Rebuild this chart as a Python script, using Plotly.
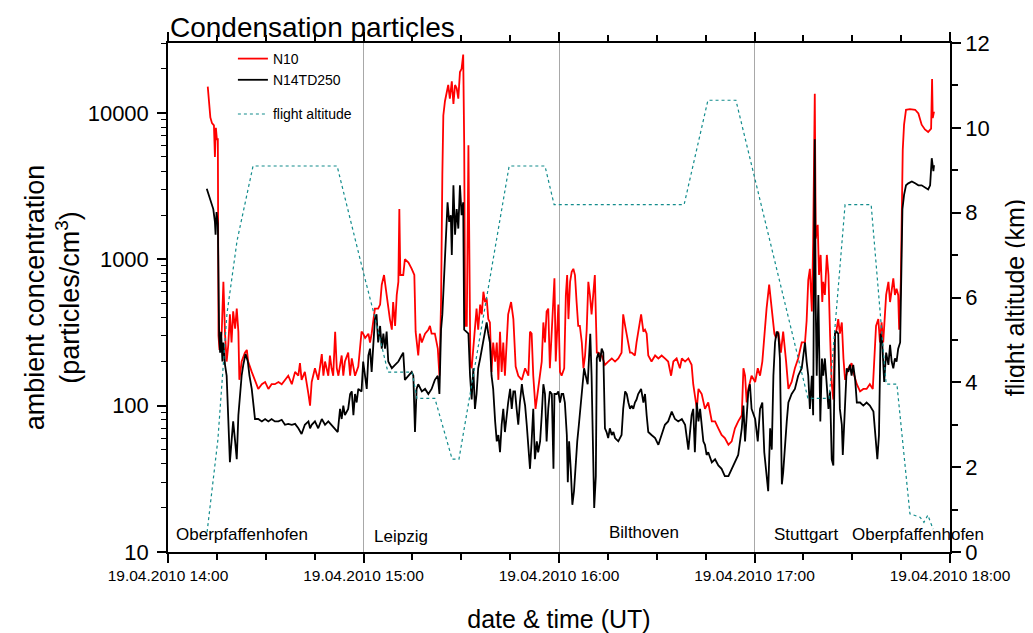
import numpy as np
import pandas as pd
import plotly.graph_objects as go

# ---------------- data (minutes after 19.04.2010 14:00 UT) ----------------
n10_minutes = [12.2, 12.6, 13.0, 13.5, 14.1, 14.4, 14.7, 15.0, 15.3, 15.5, 15.8, 16.5, 17.0, 17.5, 18.0,
               18.5, 19.0, 19.5, 20.0, 20.6, 21.1, 21.6, 21.9, 22.6, 23.6, 24.2, 24.6, 25.7, 26.7, 27.7,
               28.8, 29.8, 30.8, 31.8, 32.8, 33.9, 34.9, 35.9, 36.9, 38.0, 39.0, 40.0, 40.5, 41.0, 42.0,
               43.1, 43.6, 44.1, 45.1, 46.1, 47.2, 47.7, 48.2, 49.2, 49.7, 50.2, 50.7, 51.3, 51.8, 52.3,
               53.3, 53.8, 54.3, 55.3, 55.9, 56.4, 57.4, 58.4, 59.4, 59.9, 60.5, 61.5, 62.0, 62.5, 63.0,
               63.5, 64.5, 65.1, 65.6, 66.3, 67.1, 67.6, 68.1, 68.7, 69.1, 69.7, 70.2, 70.7, 71.0, 71.3,
               72.2, 72.7, 73.8, 74.8, 75.6, 76.0, 76.8, 77.3, 77.9, 78.9, 79.9, 80.4, 80.9, 81.9, 82.8,
               83.3, 83.8, 84.2, 84.5, 85.0, 85.5, 86.0, 86.5, 87.1, 87.6, 88.1, 88.6, 89.1, 89.6, 90.1,
               90.6, 90.9, 91.2, 91.7, 92.2, 92.5, 92.8, 93.2, 93.7, 94.2, 94.7, 95.2, 95.8, 96.3, 96.8,
               97.3, 97.8, 98.3, 98.8, 99.3, 99.8, 100.4, 100.9, 101.4, 101.9, 102.4, 102.9, 103.4, 103.9, 104.4,
               105.3, 106.0, 106.7, 107.5, 108.6, 109.6, 110.6, 111.1, 111.6, 112.1, 112.8, 113.6, 114.7, 115.2, 115.7,
               116.2, 116.7, 117.2, 117.8, 118.6, 119.0, 119.5, 119.8, 120.3, 120.8, 121.6, 122.1, 122.5, 122.9, 123.4,
               123.9, 124.4, 124.9, 125.4, 125.9, 126.4, 127.0, 127.5, 128.0, 128.5, 129.0, 129.5, 130.0, 130.5, 131.0,
               131.6, 132.1, 133.1, 134.1, 135.1, 136.2, 137.2, 138.2, 139.2, 139.7, 140.3, 141.3, 141.8, 142.3, 143.3,
               143.8, 144.3, 145.2, 145.9, 146.4, 146.9, 147.4, 148.4, 149.5, 150.5, 151.5, 152.5, 153.5, 154.4, 155.1,
               156.1, 157.1, 157.7, 158.7, 159.7, 160.7, 161.2, 161.7, 162.3, 162.8, 163.8, 164.8, 165.8, 166.9, 167.9,
               168.9, 169.9, 170.9, 172.0, 173.0, 174.0, 175.0, 176.1, 176.6, 177.1, 177.6, 178.1, 179.1, 180.2, 181.0,
               181.7, 182.4, 183.0, 183.7, 184.5, 185.1, 185.6, 186.1, 186.6, 187.3, 188.1, 188.8, 189.7, 190.4, 191.4,
               192.4, 193.4, 194.5, 195.5, 196.0, 196.5, 197.0, 197.6, 198.0, 198.5, 198.8, 199.4, 199.8, 200.3, 200.8,
               201.1, 201.6, 202.2, 202.7, 203.2, 203.7, 204.2, 204.7, 205.2, 205.7, 206.2, 206.8, 207.3, 207.8, 208.8,
               209.8, 210.3, 211.4, 212.4, 213.4, 214.4, 215.4, 216.3, 216.7, 217.3, 218.0, 218.5, 219.0, 219.5, 220.4,
               221.1, 221.6, 222.1, 222.6, 223.1, 223.6, 224.1, 224.4, 224.9, 225.2, 225.5, 225.9, 226.5, 227.7, 229.3,
               230.3, 231.3, 232.3, 233.3, 234.2, 234.5, 234.7, 235.1]
n10_values = [15100, 10900, 9300, 8500, 8200, 5000, 7900, 6600, 6600, 300, 240, 320, 700, 310, 200,
              260, 420, 270, 440, 335, 460, 320, 150, 200, 230, 240, 200, 170, 150, 130,
              140, 145, 130, 140, 140, 145, 140, 150, 160, 140, 170, 160, 195, 150, 170,
              120, 100, 145, 180, 150, 225, 160, 200, 160, 220, 180, 160, 320, 180, 160,
              220, 160, 200, 230, 160, 210, 160, 185, 320, 310, 290, 310, 270, 310, 390,
              460, 460, 490, 670, 780, 570, 460, 390, 330, 510, 350, 570, 700, 2200, 780,
              780, 1000, 950, 860, 780, 320, 220, 310, 270, 310, 330, 350, 310, 310, 245,
              160, 510, 3800, 9600, 12000, 14000, 15500, 12500, 16400, 11500, 15500, 14700, 12500, 19000, 20000,
              25000, 6300, 350, 350, 6000, 1470, 190, 180, 245, 350, 460, 330, 490, 420, 600,
              510, 540, 390, 370, 170, 270, 200, 270, 150, 320, 170, 270, 160, 245, 420,
              510, 390, 185, 160, 150, 180, 160, 320, 310, 160, 95, 130, 200, 370, 270,
              440, 460, 180, 310, 740, 200, 390, 490, 170, 160, 180, 570, 780, 390, 700,
              820, 860, 780, 510, 350, 350, 270, 180, 220, 330, 700, 570, 420, 570, 780,
              230, 230, 220, 190, 200, 210, 200, 210, 230, 420, 350, 270, 230, 230, 220,
              270, 320, 420, 320, 330, 310, 220, 200, 220, 210, 220, 210, 200, 160, 200,
              210, 180, 210, 200, 210, 190, 140, 120, 95, 130, 120, 95, 105, 78, 78,
              70, 63, 60, 54, 57, 70, 78, 86, 180, 160, 105, 130, 160, 145, 180,
              160, 200, 310, 460, 670, 510, 420, 310, 290, 320, 230, 320, 200, 130, 145,
              180, 210, 270, 270, 380, 720, 860, 440, 1300, 13500, 1380, 1720, 780, 1070, 510,
              700, 570, 1070, 780, 300, 140, 110, 310, 330, 390, 310, 370, 210, 150, 180,
              195, 170, 140, 125, 130, 130, 140, 130, 200, 350, 390, 270, 370, 270, 570,
              700, 510, 630, 740, 570, 630, 570, 330, 700, 2200, 5600, 8300, 10500, 10600, 10500,
              9900, 8300, 7700, 7400, 7800, 17000, 9200, 10200]

n14_minutes = [11.9, 12.4, 12.9, 13.4, 13.9, 14.4, 14.6, 14.9, 15.3, 15.7, 16.0, 16.3, 16.7, 17.0, 17.5,
               18.0, 18.5, 19.0, 19.5, 20.0, 20.6, 21.1, 21.6, 22.1, 22.6, 23.1, 23.8, 24.5, 25.0, 25.7,
               26.4, 26.7, 27.7, 28.8, 29.8, 30.8, 31.8, 32.8, 33.9, 34.9, 35.9, 36.9, 38.0, 39.0, 40.0,
               40.5, 41.0, 42.0, 43.1, 43.6, 44.1, 45.1, 46.1, 47.2, 48.2, 49.2, 50.2, 51.3, 52.1, 52.8,
               53.3, 53.8, 54.3, 55.3, 55.9, 56.4, 56.9, 57.4, 57.9, 58.4, 59.4, 59.9, 60.5, 61.0, 61.5,
               62.0, 62.5, 63.0, 63.5, 64.0, 64.5, 65.1, 65.6, 66.1, 66.6, 67.1, 67.6, 68.7, 69.7, 70.7,
               71.7, 72.2, 72.7, 73.8, 74.8, 75.3, 75.8, 76.3, 76.8, 77.9, 78.9, 79.9, 80.9, 81.9, 82.8,
               83.3, 83.8, 84.2, 84.8, 85.2, 85.8, 86.3, 86.8, 87.1, 87.6, 88.1, 88.6, 89.1, 89.6, 90.1,
               90.6, 90.9, 91.7, 92.2, 92.7, 93.2, 93.7, 94.2, 94.7, 95.2, 95.8, 96.3, 96.8, 97.3, 97.8,
               98.3, 98.8, 99.3, 99.8, 100.4, 100.9, 101.4, 101.9, 102.4, 102.9, 103.4, 103.9, 104.4, 105.0, 105.5,
               106.0, 106.5, 107.0, 107.5, 108.0, 108.6, 109.0, 109.6, 110.1, 110.6, 111.1, 111.6, 112.1, 112.6, 113.2,
               113.6, 114.2, 114.7, 115.2, 115.7, 116.2, 116.7, 117.2, 117.8, 118.3, 118.6, 119.3, 119.8, 120.3, 120.8,
               121.3, 121.8, 122.4, 122.7, 123.1, 123.6, 124.1, 124.6, 125.1, 125.6, 126.1, 126.7, 127.2, 127.7, 128.2,
               128.8, 129.2, 129.6, 130.0, 130.4, 130.8, 131.3, 131.6, 132.1, 132.6, 133.1, 133.6, 134.1, 134.6, 135.1,
               135.6, 136.2, 136.7, 137.2, 138.2, 139.2, 139.7, 140.3, 140.8, 141.3, 141.8, 142.3, 142.8, 143.3, 143.8,
               144.3, 145.2, 145.9, 146.4, 146.9, 147.4, 148.4, 149.5, 150.5, 151.5, 152.5, 153.5, 154.6, 155.6, 156.6,
               157.7, 158.7, 159.7, 160.2, 160.7, 161.2, 161.7, 162.3, 162.8, 163.3, 163.8, 164.3, 164.8, 165.3, 165.8,
               166.9, 167.9, 168.9, 169.9, 170.9, 172.0, 173.0, 174.0, 175.0, 176.1, 176.6, 177.1, 177.6, 178.1, 178.6,
               179.1, 180.2, 181.0, 181.7, 182.4, 183.0, 183.7, 184.2, 184.8, 185.3, 185.8, 186.3, 186.8, 187.3, 187.8,
               188.4, 188.8, 189.4, 189.9, 190.4, 191.4, 192.4, 193.4, 194.5, 195.5, 196.0, 196.5, 197.0, 197.6, 198.0,
               198.3, 198.5, 198.8, 199.1, 199.6, 200.2, 200.7, 201.1, 201.6, 202.2, 202.7, 203.2, 203.7, 204.2, 204.7,
               205.2, 205.7, 206.2, 206.8, 207.1, 207.6, 208.3, 208.8, 209.3, 209.8, 210.3, 210.9, 211.4, 212.4, 213.4,
               214.4, 215.4, 216.5, 217.2, 217.7, 218.2, 218.7, 219.2, 219.8, 220.4, 221.1, 221.6, 222.1, 222.6, 223.1,
               223.6, 224.1, 224.7, 225.0, 225.4, 225.9, 226.5, 227.2, 228.3, 229.3, 230.3, 231.3, 232.3, 233.3, 233.9,
               234.4, 234.9, 235.1]
n14_values = [3030, 2800, 2600, 2450, 2200, 1800, 1470, 2100, 1750, 300, 230, 320, 200, 270, 190,
              160, 81, 41, 57, 78, 57, 43, 86, 125, 160, 190, 225, 200, 160, 130,
              91, 81, 81, 78, 81, 78, 81, 78, 78, 80, 74, 75, 74, 75, 70,
              66, 64, 74, 78, 70, 74, 78, 70, 81, 74, 78, 74, 70, 66, 95,
              81, 100, 86, 95, 120, 125, 86, 120, 105, 130, 125, 200, 160, 130, 220,
              245, 170, 270, 390, 420, 270, 350, 245, 310, 245, 320, 200, 180, 190, 200,
              220, 230, 150, 160, 170, 160, 66, 130, 140, 125, 130, 120, 130, 150, 160,
              120, 330, 420, 780, 1180, 2450, 1800, 2000, 1070, 3200, 1470, 2200, 1620, 3200, 2000,
              2450, 330, 320, 310, 160, 110, 180, 95, 120, 180, 210, 245, 270, 330, 370,
              310, 270, 160, 130, 78, 57, 63, 48, 74, 95, 66, 86, 105, 130, 95,
              125, 125, 95, 74, 105, 140, 120, 100, 74, 48, 37, 57, 95, 43, 57,
              48, 57, 86, 140, 120, 57, 95, 125, 120, 37, 120, 120, 125, 105, 120,
              120, 105, 63, 30, 57, 37, 21, 26, 43, 57, 74, 105, 145, 180, 160,
              140, 210, 310, 160, 57, 20, 33, 210, 230, 200, 245, 230, 70, 66, 60,
              70, 63, 66, 60, 57, 63, 95, 125, 120, 105, 95, 100, 95, 105, 110,
              120, 130, 105, 120, 86, 66, 63, 60, 54, 63, 74, 78, 91, 81, 78,
              81, 74, 50, 70, 86, 95, 48, 105, 78, 95, 70, 57, 54, 46, 48,
              41, 43, 39, 37, 33, 33, 37, 41, 46, 70, 100, 57, 81, 125, 140,
              95, 81, 57, 95, 105, 48, 33, 26, 70, 50, 160, 270, 320, 310, 210,
              29, 35, 57, 78, 105, 120, 130, 160, 180, 270, 200, 160, 95, 160, 86,
              780, 6600, 460, 160, 570, 78, 210, 160, 210, 130, 95, 125, 43, 39, 310,
              320, 310, 95, 74, 46, 86, 180, 170, 190, 160, 190, 150, 105, 105, 100,
              105, 100, 91, 57, 43, 63, 310, 270, 145, 230, 190, 260, 200, 180, 210,
              200, 245, 270, 780, 2200, 2750, 3200, 3300, 3400, 3300, 3200, 3200, 3100, 3000, 3200,
              4900, 4000, 4400]

alt_minutes = [12.0, 15.3, 18.1, 21.2, 26.1, 51.9, 59.8, 63.5, 67.5, 74.9, 76.4, 81.9, 87.2, 89.3,
               104.7, 115.7, 118.5, 158.4, 165.7, 174.3, 196.4, 202.9, 207.8, 215.8, 220.4, 223.7,
               227.7, 230.8, 232.0, 233.2, 234.8]
alt_km = [0.47, 2.64, 5.62, 7.34, 9.1, 9.1, 6.64, 5.53, 4.24, 4.24, 3.62, 3.62, 2.19, 2.19,
          9.1, 9.1, 8.19, 8.19, 10.65, 10.65, 3.62, 3.62, 8.19, 8.19, 3.96, 3.96,
          0.9, 0.82, 0.7, 0.87, 0.54]

site_names = ["Oberpfaffenhofen", "Leipzig", "Bilthoven", "Stuttgart", "Oberpfaffenhofen"]
site_minutes = [22.7, 71.5, 146.1, 196.1, 230.2]

y_tick_values = [10, 100, 1000, 10000]
y2_tick_values = [0, 2, 4, 6, 8, 10, 12]

# ---------------- figure ----------------
base = pd.Timestamp("2010-04-19 14:00:00")


def to_time(mins):
    return base + pd.to_timedelta(np.array(mins, dtype=float), unit="min")


FONT = "Liberation Sans, Arial, Helvetica, sans-serif"

fig = go.Figure()
fig.add_trace(go.Scatter(x=to_time(n10_minutes), y=n10_values, mode="lines", name="N10",
                         line=dict(color="#ff0000", width=1.8), legendgroup="a"))
fig.add_trace(go.Scatter(x=to_time(n14_minutes), y=n14_values, mode="lines", name="N14TD250",
                         line=dict(color="#000000", width=1.8), legendgroup="a"))
fig.add_trace(go.Scatter(x=to_time(alt_minutes), y=alt_km, mode="lines", name="flight altitude",
                         line=dict(color="#128c8c", width=1.2, dash="dot"), legendgroup="b",
                         yaxis="y2"))

minor_log = [m * 10 ** e for e in range(1, 5) for m in range(2, 10)]

fig.update_layout(
    width=1025, height=625,
    margin=dict(l=160, r=83, t=35, b=81, autoexpand=False),
    paper_bgcolor="white", plot_bgcolor="white",
    font=dict(family=FONT, color="black"),
    title=dict(text="Condensation particles", x=0.158, xanchor="left", y=0.97, yanchor="middle",
               font=dict(size=28, family=FONT, color="black")),
    showlegend=True,
    legend=dict(x=0.083, y=1.0, xanchor="left", yanchor="top", bgcolor="rgba(0,0,0,0)",
                font=dict(size=14, family=FONT), tracegroupgap=13, traceorder="grouped"),
    xaxis=dict(
        type="date", automargin=False,
        range=[base, base + pd.Timedelta(hours=4)],
        dtick=3600000, tickformat="%d.%m.%Y %H:%M",
        tickfont=dict(size=15.5, family=FONT),
        ticks="outside", ticklen=9, tickwidth=1.5, tickcolor="black",
        minor=dict(dtick=900000, ticks="outside", ticklen=6, tickwidth=1.5, tickcolor="black", showgrid=False),
        showline=True, linecolor="black", linewidth=1.5, mirror="ticks",
        showgrid=True, gridcolor="#a8a8a8", gridwidth=1,
        zeroline=False,
        title=dict(text="date & time (UT)", font=dict(size=25, family=FONT), standoff=28),
    ),
    yaxis=dict(
        type="log", range=[1, np.log10(30000)], automargin=False,
        tickvals=y_tick_values, ticktext=[str(v) for v in y_tick_values],
        tickfont=dict(size=22, family=FONT),
        ticks="outside", ticklen=9, tickwidth=1.5, tickcolor="black",
        ticklabelstandoff=4,
        minor=dict(tickvals=minor_log, ticks="outside", ticklen=5, tickwidth=1.2, tickcolor="black", showgrid=False),
        showline=True, linecolor="black", linewidth=1.5, mirror=False,
        showgrid=False, zeroline=False,
        title=dict(text="ambient concentration<br>(particles/cm<sup>3</sup>)", font=dict(size=27, family=FONT),
                   standoff=0),
    ),
    yaxis2=dict(
        overlaying="y", side="right", range=[0, 12], automargin=False,
        tickvals=y2_tick_values,
        tickfont=dict(size=22, family=FONT),
        ticks="outside", ticklen=9, tickwidth=1.5, tickcolor="black",
        minor=dict(dtick=1, ticks="outside", ticklen=6, tickwidth=1.5, tickcolor="black", showgrid=False),
        showline=True, linecolor="black", linewidth=1.5,
        showgrid=False, zeroline=False,
        title=dict(text="flight altitude (km)", font=dict(size=25, family=FONT), standoff=18),
    ),
)

for name, mins, yp in zip(site_names, site_minutes, [0.035, 0.031, 0.039, 0.035, 0.035]):
    fig.add_annotation(x=base + pd.Timedelta(minutes=mins), y=yp, xref="x", yref="paper",
                       text=name, showarrow=False, font=dict(size=17, family=FONT, color="black"),
                       xanchor="center", yanchor="middle")

fig.write_html("out.html")
